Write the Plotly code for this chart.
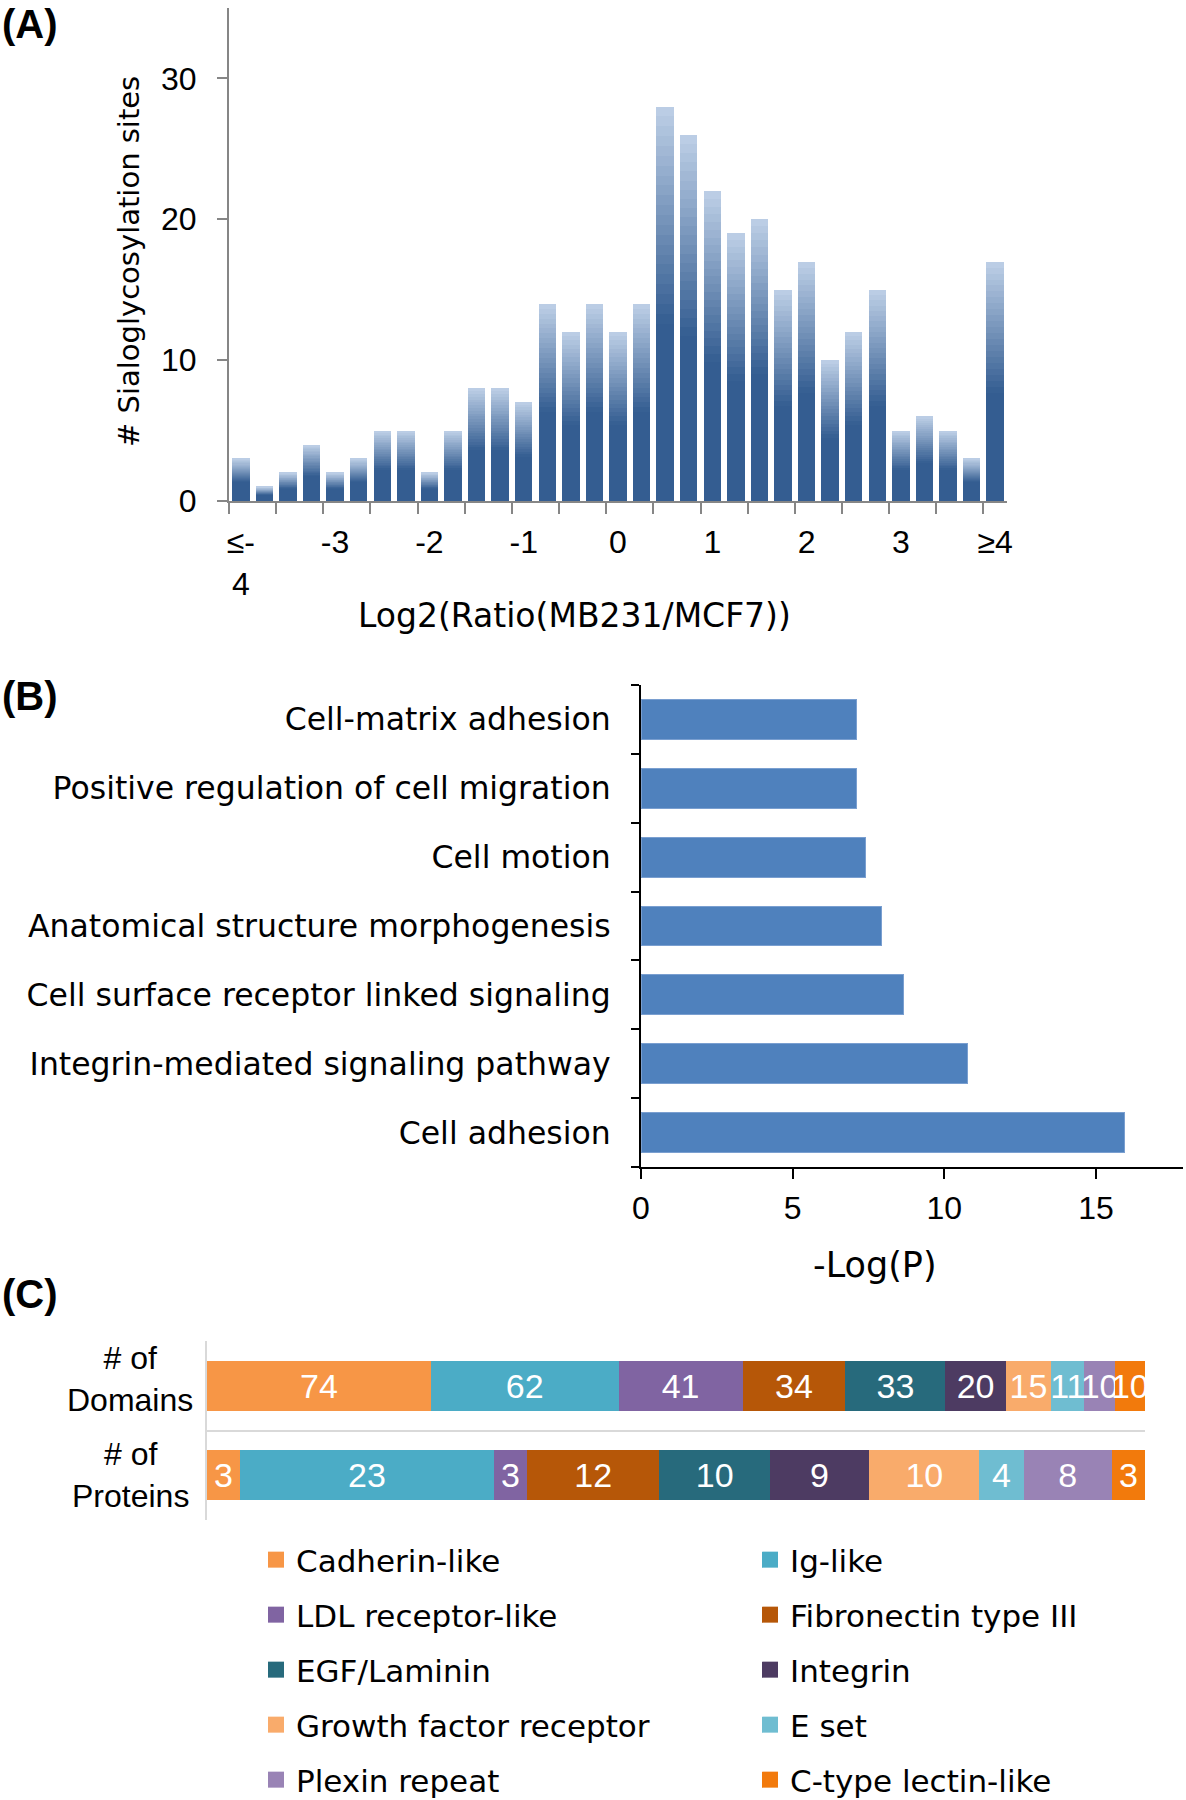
import plotly.graph_objects as go

W, H = 1186, 1800
FONT = "Liberation Sans, Arial, Helvetica, sans-serif"
WIDE = "DejaVu Sans, Verdana, sans-serif"

# ---------------- data ----------------
# (A) histogram of log2(MB231/MCF7) ratios, bins of 0.25 from <=-4 to >=4
hist_counts = [3, 1, 2, 4, 2, 3, 5, 5, 2, 5, 8, 8, 7, 14, 12, 14, 12, 14,
               28, 26, 22, 19, 20, 15, 17, 10, 12, 15, 5, 6, 5, 3, 17]
hist_tick_labels = ["≤-<br>4", "-3", "-2", "-1", "0", "1", "2", "3", "≥4"]
hist_label_every = 4

# (B) GO terms, listed bottom to top
go_terms = ["Cell adhesion",
            "Integrin-mediated signaling pathway",
            "Cell surface receptor linked signaling",
            "Anatomical structure morphogenesis",
            "Cell motion",
            "Positive regulation of cell migration",
            "Cell-matrix adhesion"]
neg_log_p = [15.95, 10.75, 8.65, 7.94, 7.40, 7.10, 7.10]

# (C) domain composition
domain_names = ["Cadherin-like", "Ig-like", "LDL receptor-like", "Fibronectin type III",
                "EGF/Laminin", "Integrin", "Growth factor receptor", "E set",
                "Plexin repeat", "C-type lectin-like"]
domain_counts = [74, 62, 41, 34, 33, 20, 15, 11, 10, 10]
protein_counts = [3, 23, 3, 12, 10, 9, 10, 4, 8, 3]
domain_colors = ["#f79646", "#4bacc6", "#8064a2", "#b65708", "#276a7c",
                 "#4d3b62", "#f9ab6b", "#6fbdd1", "#9983b5", "#f27a0c"]
c_rows = ["# of Domains", "# of Proteins"]
c_row_labels = ["# of<br>Domains", "# of<br>Proteins"]


def px(v):
    return v / W


def py(v):
    return 1 - v / H


fig = go.Figure()

# ---------------- (A) gradient bars as stacked colour bands ----------------
xs = list(range(len(hist_counts)))
dark = (52, 93, 145)
light = (190, 208, 231)
solid_frac = 0.45
n_bands = 22
fig.add_trace(go.Bar(x=xs, y=[c * solid_frac for c in hist_counts], width=0.74,
                     marker=dict(color="rgb(%d,%d,%d)" % dark, line=dict(width=0)),
                     showlegend=False, xaxis="x", yaxis="y", hoverinfo="skip"))
for k in range(n_bands):
    t = (k + 0.5) / n_bands
    col = tuple(int(round(dark[i] + (light[i] - dark[i]) * t)) for i in range(3))
    fig.add_trace(go.Bar(x=xs, y=[c * (1 - solid_frac) / n_bands for c in hist_counts],
                         width=0.74,
                         marker=dict(color="rgb(%d,%d,%d)" % col, line=dict(width=0)),
                         showlegend=False, xaxis="x", yaxis="y", hoverinfo="skip"))

# ---------------- (B) ----------------
fig.add_trace(go.Bar(x=neg_log_p, y=go_terms, orientation="h", width=0.58,
                     marker=dict(color="#4f81bd", line=dict(color="#7a9fd0", width=1)),
                     showlegend=False, xaxis="x2", yaxis="y2"))

# ---------------- (C) ----------------
dom_total = sum(domain_counts)
prot_total = sum(protein_counts)
for name, dc, pc, col in zip(domain_names, domain_counts, protein_counts, domain_colors):
    fig.add_trace(go.Bar(
        x=[dc / dom_total * 100, pc / prot_total * 100], y=c_rows, orientation="h",
        width=0.553, text=[str(dc), str(pc)], textposition="inside",
        insidetextanchor="middle", textangle=0,
        textfont=dict(color="white", size=34, family=FONT),
        marker=dict(color=col, line=dict(width=0)),
        showlegend=False, xaxis="x3", yaxis="y3", name=name, legendgroup=name))

# legend entries (two columns)
for i, (name, col) in enumerate(zip(domain_names, domain_colors)):
    fig.add_trace(go.Scatter(x=[None], y=[None], mode="markers", name=name,
                             marker=dict(symbol="square", size=18, color=col),
                             legend="legend" if i % 2 == 0 else "legend2",
                             legendgroup=name, xaxis="x3", yaxis="y3"))

axis_grey = "#868686"
tick_pos = xs[::hist_label_every]

fig.update_layout(
    width=W, height=H, margin=dict(l=0, r=0, t=0, b=0, autoexpand=False),
    paper_bgcolor="white", plot_bgcolor="white",
    barmode="stack",
    font=dict(family=FONT, size=31, color="black"),
    uniformtext=dict(minsize=34, mode="show"),
    xaxis=dict(domain=[px(229), px(1007)], anchor="y", range=[-0.5, len(xs) - 0.5],
               tickmode="array", tickvals=tick_pos, ticktext=hist_tick_labels,
               ticks="", showline=True, linecolor=axis_grey, linewidth=2,
               showgrid=False, zeroline=False, tickfont=dict(size=32),
               ticklabelstandoff=12, automargin=False,
               minor=dict(tickmode="linear", tick0=-0.5, dtick=2, ticks="outside",
                          ticklen=11, tickcolor=axis_grey, tickwidth=2, showgrid=False)),
    yaxis=dict(domain=[py(501), py(8)], anchor="x", range=[0, 35],
               tickvals=[0, 10, 20, 30], ticks="outside", ticklen=10, tickwidth=2,
               tickcolor=axis_grey, showline=True, linecolor=axis_grey, linewidth=2,
               showgrid=False, zeroline=False, tickfont=dict(size=32),
               ticklabelstandoff=14, automargin=False),
    xaxis2=dict(domain=[px(641), px(1183)], anchor="y2", range=[0, 17.87],
                tickvals=[0, 5, 10, 15], ticks="outside", ticklen=10, tickwidth=2,
                tickcolor="black", showline=True, linecolor="black", linewidth=2,
                showgrid=False, zeroline=False, tickfont=dict(size=32),
                ticklabelstandoff=2, automargin=False),
    yaxis2=dict(domain=[py(1167), py(685)], anchor="x2", type="category",
                categoryorder="array", categoryarray=go_terms,
                tickson="boundaries", ticks="outside", ticklen=8, tickwidth=2,
                tickcolor="black", showline=True, linecolor="black", linewidth=2,
                showgrid=False, zeroline=False, tickfont=dict(size=31.5, family=WIDE),
                ticklabelstandoff=22, automargin=False),
    xaxis3=dict(domain=[px(207), px(1145)], anchor="y3", range=[0, 100],
                visible=False),
    yaxis3=dict(domain=[py(1520), py(1341)], anchor="x3", type="category",
                categoryorder="array", categoryarray=c_rows, range=[1.505, -0.505],
                tickson="boundaries", ticks="", showticklabels=False,
                showgrid=True, gridcolor="#d9d9d9", gridwidth=2, automargin=False,
                showline=True, linecolor="#d9d9d9", linewidth=2, zeroline=False),
    legend=dict(x=px(256), y=py(1533), xanchor="left", yanchor="top",
                orientation="v", font=dict(size=31, family=WIDE), tracegroupgap=11.7,
                bgcolor="rgba(0,0,0,0)"),
    legend2=dict(x=px(750), y=py(1533), xanchor="left", yanchor="top",
                 orientation="v", font=dict(size=31, family=WIDE), tracegroupgap=11.7,
                 bgcolor="rgba(0,0,0,0)"),
)

annotations = [
    dict(text="<b>(A)</b>", x=0, y=py(0), xanchor="left", yanchor="top", font=dict(size=40)),
    dict(text="<b>(B)</b>", x=0, y=py(672), xanchor="left", yanchor="top", font=dict(size=40)),
    dict(text="<b>(C)</b>", x=0, y=py(1270), xanchor="left", yanchor="top", font=dict(size=40)),
    dict(text="Log2(Ratio(MB231/MCF7))", x=px(574), y=py(615), xanchor="center",
         yanchor="middle", font=dict(size=33, family=WIDE)),
    dict(text="# Sialoglycosylation sites", x=px(129), y=py(262), xanchor="center",
         yanchor="middle", textangle=-90, font=dict(size=29, family=WIDE)),
    dict(text="-Log(P)", x=px(875), y=py(1265), xanchor="center", yanchor="middle",
         font=dict(size=35, family=WIDE)),
]
for lab, row, shift in zip(c_row_labels, c_rows, [7, 0]):
    annotations.append(dict(text=lab, x=px(130), xref="paper", y=row, yref="y3",
                            xanchor="center", yanchor="middle", align="center",
                            yshift=shift, font=dict(size=32)))
for a in annotations:
    a.setdefault("xref", "paper")
    a.setdefault("yref", "paper")
    a["showarrow"] = False
fig.update_layout(annotations=annotations)

fig.write_html("out.html", config={"displayModeBar": False},
               post_script="document.body.style.margin='0';document.body.style.padding='0';")
